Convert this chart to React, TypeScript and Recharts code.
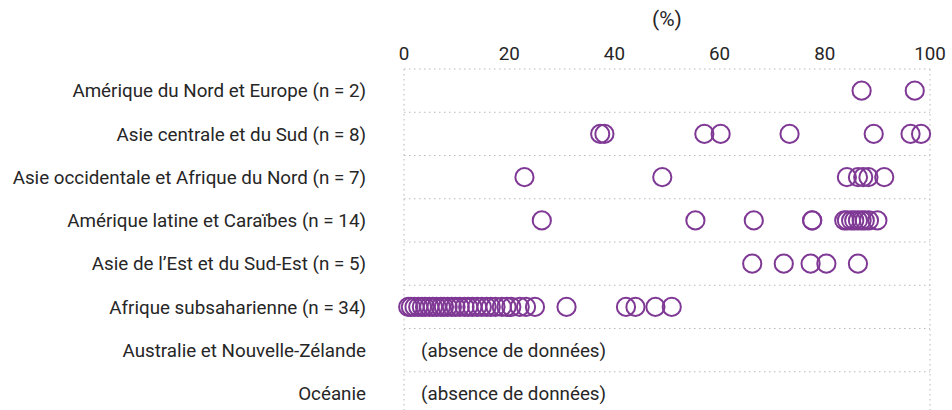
import React from 'react';
import {
  ScatterChart,
  Scatter,
  XAxis,
  YAxis,
  ReferenceLine,
} from 'recharts';

// Régions (ordre de haut en bas)
const regions = [
  'Amérique du Nord et Europe (n = 2)',
  'Asie centrale et du Sud (n = 8)',
  'Asie occidentale et Afrique du Nord (n = 7)',
  'Amérique latine et Caraïbes (n = 14)',
  'Asie de l’Est et du Sud-Est (n = 5)',
  'Afrique subsaharienne (n = 34)',
  'Australie et Nouvelle-Zélande',
  'Océanie',
];

const nordEurope = [87.0, 97.1];
const asieCentraleSud = [37.3, 38.1, 57.1, 60.2, 73.3, 89.3, 96.3, 98.3];
const asieOccAfriqueNord = [22.9, 49.1, 84.2, 86.3, 87.3, 88.3, 91.3];
const ameriqueLatine = [
  26.2, 55.4, 66.5, 77.6, 77.6, 83.7, 84.2, 85.0, 85.6, 86.3, 87.0, 87.6, 88.4, 90.0,
];
const asieEstSudEst = [66.2, 72.2, 77.3, 80.3, 86.3];
const afriqueSubsaharienne = [
  0.8, 1.3, 2.0, 2.7, 3.4, 4.0, 4.8, 5.5, 6.2, 7.0, 7.6, 8.3, 9.1, 9.8, 10.6,
  11.5, 12.2, 13.0, 13.9, 14.8, 15.7, 16.5, 17.4, 18.6, 19.5, 20.4, 22.0, 23.2,
  24.9, 30.9, 42.2, 44.0, 47.8, 50.9,
];
// lignes sans données
const noDataRows = [6, 7];
const noDataText = '(absence de données)';

const xTicks = [0, 20, 40, 60, 80, 100];

const seriesByRow = [
  nordEurope,
  asieCentraleSud,
  asieOccAfriqueNord,
  ameriqueLatine,
  asieEstSudEst,
  afriqueSubsaharienne,
];

const points = seriesByRow.flatMap((vals, row) =>
  vals.map((v) => ({ x: v, y: row }))
);
const noDataPoints = noDataRows.map((row) => ({ x: 0, y: row }));

const PURPLE = '#7f3995';
const GRID = '#b8b8b8';
const TEXT = '#262626';
const FONT = 'Roboto, "Noto Sans", sans-serif';
const FS = 18.8;

const Ring = (props: any) => {
  const { cx, cy } = props;
  if (cx == null || cy == null) return null;
  return <circle cx={cx} cy={cy} r={9.1} fill="none" stroke={PURPLE} strokeWidth={2} />;
};

const NoDataLabel = (props: any) => {
  const { cx, cy } = props;
  if (cx == null || cy == null) return null;
  return (
    <text
      x={cx + 17}
      y={cy}
      dy="0.35em"
      fontSize={FS}
      fontFamily={FONT}
      fill={TEXT}
    >
      {noDataText}
    </text>
  );
};

const PercentLabel = (props: any) => {
  const vb = props.viewBox || {};
  return (
    <text
      x={vb.x + vb.width / 2}
      y={26}
      textAnchor="middle"
      style={{ fontSize: 21, fontFamily: FONT }}
      fill={TEXT}
    >
      (%)
    </text>
  );
};

export default function App() {
  const rowBounds = Array.from({ length: regions.length + 1 }, (_, i) => i - 0.5);

  return (
    <div style={{ position: 'absolute', left: 0, top: 0, background: '#fff' }}>
      <ScatterChart
        width={952}
        height={420}
        margin={{ top: 0, right: 22, bottom: 5, left: 0 }}
        style={{ fontFamily: FONT }}
      >
        <XAxis
          type="number"
          dataKey="x"
          orientation="top"
          domain={[0, 100]}
          ticks={xTicks}
          height={69}
          axisLine={false}
          tickLine={false}
          tickMargin={3}
          tick={{ fontSize: FS, fill: TEXT }}
          label={<PercentLabel />}
        />
        <YAxis
          type="number"
          dataKey="y"
          domain={[-0.5, regions.length - 0.5]}
          reversed
          ticks={regions.map((_, i) => i)}
          interval={0}
          tickFormatter={(i: number) => regions[i] ?? ''}
          width={404}
          axisLine={false}
          tickLine={false}
          tickMargin={32}
          tick={{ fontSize: FS, fill: TEXT }}
        />
        {rowBounds.map((b) => (
          <ReferenceLine
            key={`h${b}`}
            y={b}
            stroke={GRID}
            strokeDasharray="1.5 3.5"
            ifOverflow="extendDomain"
          />
        ))}
        <ReferenceLine x={0} stroke={GRID} strokeDasharray="1.5 3.5" />
        <ReferenceLine x={100} stroke={GRID} strokeDasharray="1.5 3.5" />
        <Scatter data={points} shape={Ring} isAnimationActive={false} />
        <Scatter data={noDataPoints} shape={NoDataLabel} isAnimationActive={false} />
      </ScatterChart>
    </div>
  );
}
